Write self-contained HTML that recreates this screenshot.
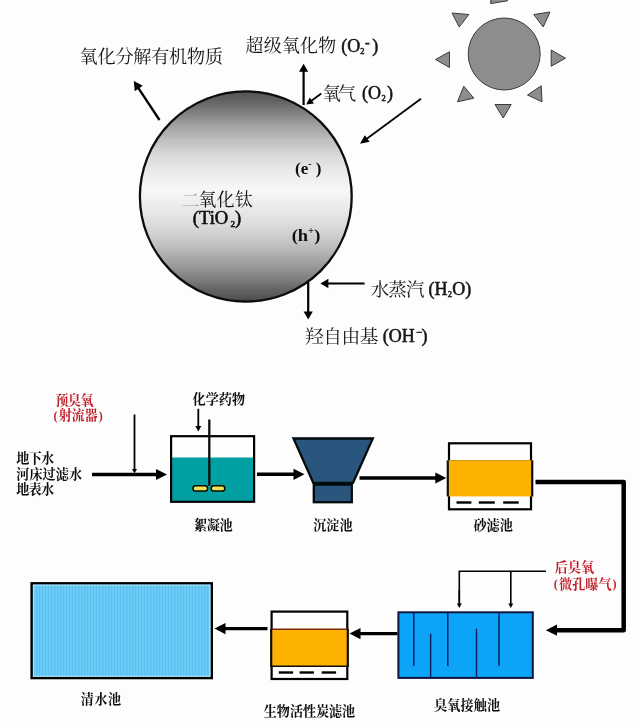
<!DOCTYPE html>
<html lang="zh">
<head>
<meta charset="utf-8">
<title>TiO2 photocatalysis and water treatment process</title>
<style>
html,body{margin:0;padding:0;background:#fdfdfd;}
body{width:640px;height:727px;overflow:hidden;font-family:"Liberation Serif",serif;}
svg{display:block;font-family:"Liberation Serif",serif;}
svg text{font-family:"Liberation Serif",serif;}
svg text.cjk{font-family:"Liberation Serif","Noto Serif CJK SC",serif;}
</style>
</head>
<body>
<svg width="640" height="727" viewBox="0 0 640 727">
<defs>
<linearGradient id="sph" gradientUnits="userSpaceOnUse" x1="0" y1="90" x2="0" y2="304">
<stop offset="0.0000" stop-color="#545354"/>
<stop offset="0.0327" stop-color="#5c5b5c"/>
<stop offset="0.0561" stop-color="#666566"/>
<stop offset="0.1075" stop-color="#828182"/>
<stop offset="0.1308" stop-color="#8e8d8e"/>
<stop offset="0.1542" stop-color="#9c9b9c"/>
<stop offset="0.1682" stop-color="#a3a2a3"/>
<stop offset="0.1916" stop-color="#adacad"/>
<stop offset="0.2150" stop-color="#b5b4b5"/>
<stop offset="0.2336" stop-color="#c1c0c1"/>
<stop offset="0.2570" stop-color="#c8c7c8"/>
<stop offset="0.2804" stop-color="#d2d1d2"/>
<stop offset="0.3178" stop-color="#dddcdd"/>
<stop offset="0.3411" stop-color="#e1e0e1"/>
<stop offset="0.3645" stop-color="#e7e6e7"/>
<stop offset="0.4206" stop-color="#f2f1f2"/>
<stop offset="0.4439" stop-color="#f5f4f5"/>
<stop offset="0.4673" stop-color="#f8f7f8"/>
<stop offset="0.4907" stop-color="#f5f4f5"/>
<stop offset="0.5140" stop-color="#f1f0f1"/>
<stop offset="0.5374" stop-color="#edeced"/>
<stop offset="0.5748" stop-color="#e8e7e8"/>
<stop offset="0.5981" stop-color="#e2e1e2"/>
<stop offset="0.6215" stop-color="#deddde"/>
<stop offset="0.6776" stop-color="#d0cfd0"/>
<stop offset="0.7009" stop-color="#c8c7c8"/>
<stop offset="0.7243" stop-color="#c1c0c1"/>
<stop offset="0.7850" stop-color="#a9a8a9"/>
<stop offset="0.8084" stop-color="#a1a0a1"/>
<stop offset="0.8318" stop-color="#979697"/>
<stop offset="0.8879" stop-color="#7d7c7d"/>
<stop offset="0.9112" stop-color="#6f6e6f"/>
<stop offset="0.9346" stop-color="#636263"/>
<stop offset="0.9486" stop-color="#5e5d5e"/>
<stop offset="0.9673" stop-color="#565556"/>
<stop offset="0.9766" stop-color="#4f4e4f"/>
<stop offset="1.0000" stop-color="#484748"/>
</linearGradient>
<pattern id="stripes" width="3" height="8" patternUnits="userSpaceOnUse">
<rect width="3" height="8" fill="#6bcefb"/>
<rect width="1.3" height="8" fill="#5cc0ee"/>
</pattern>
<filter id="soft" x="-2%" y="-2%" width="104%" height="104%"><feGaussianBlur stdDeviation="0.55"/></filter>
</defs>
<rect width="640" height="727" fill="#fdfdfd"/>
<g filter="url(#soft)">
<ellipse cx="245.8" cy="196.5" rx="105.9" ry="105.1" fill="url(#sph)" stroke="#0a0a0a" stroke-width="2.3"/>
<circle cx="504.2" cy="54" r="36" fill="#8e8c8d" stroke="#3a3a3a" stroke-width="1"/>
<polygon points="490.7,3.6 507.5,0.8 507.5,-3.0 491.0,-3.0" fill="#8e8c8d" stroke="#3a3a3a" stroke-width="1" stroke-linejoin="round"/>
<polygon points="452.0,13.0 468.8,14.5 459.2,27.0" fill="#8e8c8d" stroke="#3a3a3a" stroke-width="1" stroke-linejoin="round"/>
<polygon points="533.8,14.5 550.0,12.0 543.2,27.0" fill="#8e8c8d" stroke="#3a3a3a" stroke-width="1" stroke-linejoin="round"/>
<polygon points="435.5,59.5 449.5,51.8 449.5,67.5" fill="#8e8c8d" stroke="#3a3a3a" stroke-width="1" stroke-linejoin="round"/>
<polygon points="551.2,50.0 565.5,58.2 551.2,66.2" fill="#8e8c8d" stroke="#3a3a3a" stroke-width="1" stroke-linejoin="round"/>
<polygon points="463.8,86.2 473.8,98.2 457.5,101.8" fill="#8e8c8d" stroke="#3a3a3a" stroke-width="1" stroke-linejoin="round"/>
<polygon points="541.2,85.8 527.5,95.0 542.0,101.8" fill="#8e8c8d" stroke="#3a3a3a" stroke-width="1" stroke-linejoin="round"/>
<polygon points="495.0,104.5 511.2,104.5 503.2,118.0" fill="#8e8c8d" stroke="#3a3a3a" stroke-width="1" stroke-linejoin="round"/>
<line x1="159.50" y1="120.00" x2="137.76" y2="87.01" stroke="#000" stroke-width="2.3"/><polygon points="133.80,81.00 142.76,85.87 134.74,91.16" fill="#000"/>
<line x1="303.60" y1="105.00" x2="303.60" y2="70.20" stroke="#000" stroke-width="2.2"/><polygon points="303.60,63.80 308.20,71.80 299.00,71.80" fill="#000"/>
<line x1="321.30" y1="93.60" x2="310.73" y2="101.30" stroke="#000" stroke-width="1.8"/><polygon points="306.20,104.60 309.74,97.57 313.98,103.39" fill="#000"/>
<line x1="421.00" y1="98.70" x2="365.79" y2="139.52" stroke="#000" stroke-width="1.7"/><polygon points="360.00,143.80 364.86,135.23 369.61,141.67" fill="#000"/>
<line x1="364.60" y1="283.50" x2="326.80" y2="283.50" stroke="#000" stroke-width="2.2"/><polygon points="320.40,283.50 328.40,278.80 328.40,288.20" fill="#000"/>
<line x1="308.20" y1="282.00" x2="308.20" y2="313.00" stroke="#000" stroke-width="2.2"/><polygon points="308.20,319.40 303.60,311.40 312.80,311.40" fill="#000"/>
<text class="cjk" x="79.6" y="62.9" font-size="18.1" textLength="143.4" lengthAdjust="spacing" fill="#141414" stroke="none">氧化分解有机物质</text>
<text class="cjk" x="245.5" y="52.4" font-size="17.9" textLength="90.7" lengthAdjust="spacing" fill="#141414" stroke="none">超级氧化物</text>
<text class="cjk" x="322.5" y="99.6" font-size="18.4" textLength="33.7" lengthAdjust="spacing" fill="#141414" stroke="none">氧气</text>
<text class="cjk" x="370.8" y="295.9" font-size="18.5" textLength="53.6" lengthAdjust="spacing" fill="#141414" stroke="none">水蒸汽</text>
<text class="cjk" x="305.0" y="342.8" font-size="18.7" textLength="73.4" lengthAdjust="spacing" fill="#141414" stroke="none">羟自由基</text>
<text class="cjk" x="181.8" y="206.5" font-size="17.8" fill="#a6a6a6" stroke="none">二</text>
<text class="cjk" x="198.4" y="206.1" font-size="17.8" textLength="54.3" lengthAdjust="spacing" fill="#0c0c0c" stroke="none">氧化钛</text>
<text font-size="18" font-weight="normal" fill="#141414" stroke="#141414" stroke-width="0.5"><tspan x="341.20" y="52.00">(O</tspan><tspan x="360.20" y="53.80" font-size="8.5">2</tspan><tspan x="365.00" y="47.40" font-size="14">-</tspan><tspan x="372.30" y="52.00">)</tspan></text>
<text font-size="18" font-weight="normal" fill="#141414" stroke="#141414" stroke-width="0.5"><tspan x="362.00" y="99.30">(O</tspan><tspan x="381.60" y="101.10" font-size="8.5">2</tspan><tspan x="387.00" y="99.30">)</tspan></text>
<text font-size="18" font-weight="normal" fill="#141414" stroke="#141414" stroke-width="0.5"><tspan x="428.50" y="295.20">(H</tspan><tspan x="447.70" y="297.00" font-size="8.5">2</tspan><tspan x="452.20" y="295.20">O)</tspan></text>
<text font-size="18" font-weight="normal" fill="#141414" stroke="#141414" stroke-width="0.5"><tspan x="382.80" y="342.20">(OH</tspan><tspan x="416.00" y="335.70" font-size="11">−</tspan><tspan x="421.60" y="342.20">)</tspan></text>
<text font-size="18.6" font-weight="normal" fill="#0c0c0c" stroke="#0c0c0c" stroke-width="0.55"><tspan x="192.80" y="224.30">(TiO</tspan><tspan x="230.60" y="226.90" font-size="9">2</tspan><tspan x="235.00" y="224.30">)</tspan></text>
<text x="295.0" y="174.3" font-size="17" font-weight="bold" fill="#111" stroke="#111" stroke-width="0">(e<tspan font-size="10" dy="-7">-</tspan><tspan dy="7">&#160;)</tspan></text>
<text x="291.7" y="241.4" font-size="17.5" font-weight="bold" fill="#111" stroke="#111" stroke-width="0" textLength="28.6" lengthAdjust="spacingAndGlyphs">(h<tspan font-size="10" dy="-7">+</tspan><tspan dy="7">)</tspan></text>
<text class="cjk" x="55.3" y="404.6" font-size="13.1" font-weight="bold" textLength="38.2" lengthAdjust="spacing" fill="#c01f2a" stroke="none">预臭氧</text>
<text class="cjk" x="58.8" y="420.4" font-size="13.1" font-weight="bold" textLength="38.7" lengthAdjust="spacing" fill="#c01f2a" stroke="none">射流器</text>
<text class="cjk" x="16.2" y="462.5" font-size="13.1" font-weight="bold" textLength="37.8" lengthAdjust="spacing" fill="#0a0a0a" stroke="none">地下水</text>
<text class="cjk" x="16.2" y="479.2" font-size="13.1" font-weight="bold" textLength="65.8" lengthAdjust="spacing" fill="#0a0a0a" stroke="none">河床过滤水</text>
<text class="cjk" x="16.2" y="494.4" font-size="13.1" font-weight="bold" textLength="37.8" lengthAdjust="spacing" fill="#0a0a0a" stroke="none">地表水</text>
<text class="cjk" x="192.5" y="404.0" font-size="13.1" font-weight="bold" textLength="52.5" lengthAdjust="spacing" fill="#0a0a0a" stroke="none">化学药物</text>
<text class="cjk" x="194.0" y="530.3" font-size="13.1" font-weight="bold" textLength="38.5" lengthAdjust="spacing" fill="#0a0a0a" stroke="none">絮凝池</text>
<text class="cjk" x="313.2" y="529.8" font-size="13.1" font-weight="bold" textLength="39.3" lengthAdjust="spacing" fill="#0a0a0a" stroke="none">沉淀池</text>
<text class="cjk" x="473.5" y="529.6" font-size="13.1" font-weight="bold" textLength="39.3" lengthAdjust="spacing" fill="#0a0a0a" stroke="none">砂滤池</text>
<text class="cjk" x="554.8" y="572.1" font-size="13.1" font-weight="bold" textLength="39.2" lengthAdjust="spacing" fill="#c01f2a" stroke="none">后臭氧</text>
<text class="cjk" x="559.0" y="588.7" font-size="13.1" font-weight="bold" textLength="52.5" lengthAdjust="spacing" fill="#c01f2a" stroke="none">微孔曝气</text>
<text class="cjk" x="80.8" y="704.1" font-size="13.1" font-weight="bold" textLength="40.2" lengthAdjust="spacing" fill="#0a0a0a" stroke="none">清水池</text>
<text class="cjk" x="263.8" y="716.2" font-size="13.1" font-weight="bold" textLength="91.4" lengthAdjust="spacing" fill="#0a0a0a" stroke="none">生物活性炭滤池</text>
<text class="cjk" x="434.0" y="710.0" font-size="13.1" font-weight="bold" textLength="66.2" lengthAdjust="spacing" fill="#0a0a0a" stroke="none">臭氧接触池</text>
<text x="53.6" y="419.6" font-size="12" font-weight="bold" fill="#c01f2a">(</text>
<text x="98.8" y="419.6" font-size="12" font-weight="bold" fill="#c01f2a">)</text>
<text x="553.8" y="587.8" font-size="12" font-weight="bold" fill="#c01f2a">(</text>
<text x="612.6" y="587.8" font-size="12" font-weight="bold" fill="#c01f2a">)</text>
<line x1="92.00" y1="474.50" x2="158.20" y2="474.50" stroke="#000" stroke-width="3.4"/><polygon points="167.00,474.50 156.00,480.10 156.00,468.90" fill="#000"/>
<line x1="134.50" y1="414.50" x2="134.50" y2="470.00" stroke="#000" stroke-width="1.8"/><polygon points="134.50,473.60 132.00,469.10 137.00,469.10" fill="#000"/>
<line x1="198.30" y1="408.80" x2="198.30" y2="427.10" stroke="#000" stroke-width="1.8"/><polygon points="198.30,431.50 195.30,426.00 201.30,426.00" fill="#000"/>
<line x1="257.00" y1="474.30" x2="295.70" y2="474.30" stroke="#000" stroke-width="3.4"/><polygon points="304.50,474.30 293.50,479.90 293.50,468.70" fill="#000"/>
<line x1="359.50" y1="478.00" x2="437.50" y2="478.00" stroke="#000" stroke-width="3.4"/><polygon points="446.30,478.00 435.30,483.60 435.30,472.40" fill="#000"/>
<polyline points="535.5,482 623.7,482 623.7,630.2 555,630.2" fill="none" stroke="#000" stroke-width="4.5" stroke-linejoin="round"/>
<polygon points="545.8,630.2 557,624.6 557,635.8" fill="#000"/>
<line x1="397.50" y1="633.60" x2="358.30" y2="633.60" stroke="#000" stroke-width="3.4"/><polygon points="349.50,633.60 360.50,628.00 360.50,639.20" fill="#000"/>
<line x1="267.50" y1="628.60" x2="223.30" y2="628.60" stroke="#000" stroke-width="3.4"/><polygon points="214.50,628.60 225.50,623.00 225.50,634.20" fill="#000"/>
<polyline points="546,571.2 459.3,571.2 459.3,603" fill="none" stroke="#000" stroke-width="1.6"/>
<line x1="459.30" y1="590.00" x2="459.30" y2="604.40" stroke="#000" stroke-width="1.6"/><polygon points="459.30,608.00 456.80,603.50 461.80,603.50" fill="#000"/>
<line x1="510.80" y1="571.20" x2="510.80" y2="604.40" stroke="#000" stroke-width="1.6"/><polygon points="510.80,608.00 508.30,603.50 513.30,603.50" fill="#000"/>
<rect x="171.1" y="436.2" width="83" height="65.6" fill="#fefefe"/>
<rect x="171.1" y="457.5" width="83" height="44.3" fill="#02a0a2"/>
<rect x="171.1" y="436.2" width="83" height="65.6" fill="none" stroke="#000" stroke-width="2.2"/>
<line x1="209.3" y1="419.5" x2="209.3" y2="486" stroke="#0a0a0a" stroke-width="2.3"/>
<rect x="193" y="485.8" width="14.6" height="5.2" rx="2.6" fill="#ece25a" stroke="#0a0a00" stroke-width="1.5"/>
<rect x="211.2" y="485.8" width="13.6" height="5.2" rx="2.6" fill="#ece25a" stroke="#0a0a00" stroke-width="1.5"/>
<polygon points="293.5,438.5 372.8,438.5 353,482.8 313.3,482.8" fill="#2c577e" stroke="#05080f" stroke-width="2.3" stroke-linejoin="miter"/>
<rect x="313.8" y="484.6" width="38" height="17.6" fill="#2c577e" stroke="#05080f" stroke-width="2.3"/>
<rect x="449" y="443.3" width="82" height="66" fill="#fefefe" stroke="#000" stroke-width="2.2"/>
<rect x="447" y="460.4" width="86" height="36" fill="#feb205"/>
<line x1="447.8" y1="460.4" x2="447.8" y2="496.4" stroke="#111" stroke-width="2.2"/><line x1="532.2" y1="460.4" x2="532.2" y2="496.4" stroke="#111" stroke-width="2.2"/>
<line x1="449" y1="460.6" x2="531" y2="460.6" stroke="#c8860a" stroke-width="0.8"/>
<line x1="456.5" y1="502.5" x2="471.4" y2="502.5" stroke="#000" stroke-width="2.4"/>
<line x1="478.8" y1="502.5" x2="494.8" y2="502.5" stroke="#000" stroke-width="2.4"/>
<line x1="503.2" y1="502.5" x2="518.7" y2="502.5" stroke="#000" stroke-width="2.4"/>
<rect x="271.6" y="611.6" width="75.7" height="67.4" fill="#fefefe" stroke="#000" stroke-width="2.2"/>
<rect x="270.2" y="629" width="78.6" height="37.4" fill="#feb205"/>
<line x1="270.2" y1="629.3" x2="348.8" y2="629.3" stroke="#7a2a08" stroke-width="1.5"/>
<line x1="270.2" y1="666.3" x2="348.8" y2="666.3" stroke="#111" stroke-width="1.5"/>
<line x1="271.2" y1="629" x2="271.2" y2="666.4" stroke="#111" stroke-width="2.2"/><line x1="347.8" y1="629" x2="347.8" y2="666.4" stroke="#111" stroke-width="2.2"/>
<line x1="278.8" y1="672.5" x2="293.1" y2="672.5" stroke="#000" stroke-width="2.4"/>
<line x1="299.6" y1="672.5" x2="313.9" y2="672.5" stroke="#000" stroke-width="2.4"/>
<line x1="321.7" y1="672.5" x2="336.1" y2="672.5" stroke="#000" stroke-width="2.4"/>
<rect x="398.4" y="612.3" width="134.4" height="65.6" fill="#07a4f7" stroke="#0a1440" stroke-width="2"/>
<line x1="413.8" y1="612.3" x2="413.8" y2="666" stroke="#0a1a5a" stroke-width="1.4"/>
<line x1="430.6" y1="633.8" x2="430.6" y2="678" stroke="#0a1a5a" stroke-width="1.4"/>
<line x1="447.8" y1="612.3" x2="447.8" y2="666" stroke="#0a1a5a" stroke-width="1.4"/>
<line x1="476.5" y1="628.8" x2="476.5" y2="678" stroke="#0a1a5a" stroke-width="1.4"/>
<line x1="499" y1="612.3" x2="499" y2="666" stroke="#0a1a5a" stroke-width="1.4"/>
<rect x="31.6" y="583.3" width="180.2" height="94.8" fill="url(#stripes)" stroke="#000" stroke-width="2.4"/>
<rect x="33.4" y="585.1" width="176.6" height="91.2" fill="none" stroke="#c8ecfb" stroke-width="0.8"/>
</g>
</svg>
</body>
</html>
